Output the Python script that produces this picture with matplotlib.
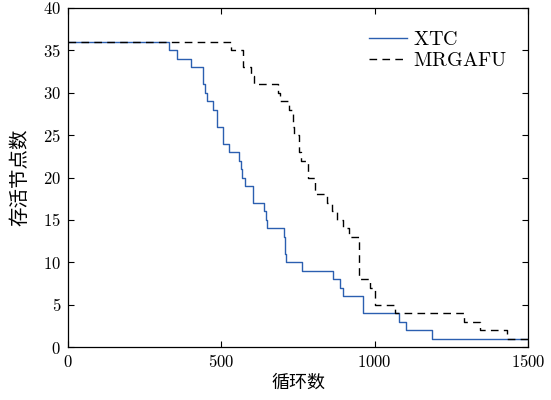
import matplotlib
matplotlib.use("Agg")
import matplotlib.pyplot as plt

plt.rcParams['mathtext.fontset'] = 'cm'
plt.rcParams['font.family'] = ['Noto Sans CJK SC', 'DejaVu Sans']

# XTC step series (round where level begins, alive nodes)
xtc_x = [0, 330, 357, 400, 439, 441, 448, 452, 472, 486, 504, 506, 525, 557, 563, 566, 571, 577,
         602, 639, 645, 650, 704, 708, 712, 762, 865, 887, 898, 961, 1080, 1102, 1186, 1500]
xtc_y = [36, 35, 34, 33, 32, 31, 30, 29, 28, 26, 25, 24, 23, 22, 21, 20, 20, 19,
         17, 16, 15, 14, 13, 11, 10, 9, 8, 7, 6, 4, 3, 2, 1, 1]

# MRGAFU step series
mrg_x = [0, 531, 570, 596, 606, 685, 690, 722, 733, 737, 754, 760, 781, 805, 845, 860, 878,
         897, 915, 950, 985, 1000, 1066, 1291, 1345, 1430, 1500]
mrg_y = [36, 35, 33, 32, 31, 30, 29, 28, 26, 25, 23, 22, 20, 18, 17, 16, 15,
         14, 13, 8, 7, 5, 4, 3, 2, 1, 1]

x_ticks = [0, 500, 1000, 1500]
y_ticks = [0, 5, 10, 15, 20, 25, 30, 35, 40]

fig = plt.figure(figsize=(5.51, 4.0), dpi=100)
ax = fig.add_axes([68/551, 53/400, 460/551, 339/400])

ax.step(xtc_x, xtc_y, where='post', color='#2b5fb0', lw=1.0, label=r'$\mathrm{XTC}$')
ax.step(mrg_x, mrg_y, where='post', color='black', lw=1.0, ls=(0, (5.5, 3.8)), label=r'$\mathrm{MRGAFU}$')

ax.set_xlim(0, 1500)
ax.set_ylim(0, 40)
ax.set_xticks(x_ticks)
ax.set_yticks(y_ticks)
ax.set_xticklabels([f'${v}$' for v in x_ticks], fontsize=12)
ax.set_yticklabels([f'${v}$' for v in y_ticks], fontsize=12)
ax.tick_params(direction='in', top=True, right=True, length=4, width=0.8, pad=5)
for s in ax.spines.values():
    s.set_linewidth(0.9)

ax.set_xlabel('循环数', fontsize=13, labelpad=2)
ax.set_ylabel('存活节点数', fontsize=14, labelpad=9)

leg = ax.legend(loc='upper right', bbox_to_anchor=(0.985, 0.98), frameon=False, fontsize=14.5,
                handlelength=1.9, handletextpad=0.3, labelspacing=0.0, borderaxespad=0.3)

fig.savefig('out.png', dpi=100)
